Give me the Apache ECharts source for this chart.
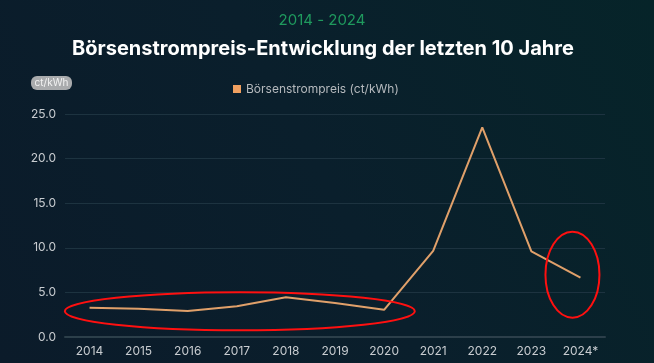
<!DOCTYPE html>
<html><head><meta charset="utf-8">
<script src="https://cdn.jsdelivr.net/npm/echarts@6/dist/echarts.min.js"></script>
<style>html,body{margin:0;padding:0;background:#0a1e2b;}#c{width:654px;height:363px;}</style>
</head><body><div id="c"></div>
<script>
const categories = ['2014','2015','2016','2017','2018','2019','2020','2021','2022','2023','2024*'];
const prices = [3.28, 3.17, 2.92, 3.45, 4.46, 3.8, 3.05, 9.65, 23.5, 9.6, 6.65];
const yTicks = [0, 5, 10, 15, 20, 25];
const seriesName = 'Börsenstrompreis (ct/kWh)';
const subtitle = '2014 - 2024';
const mainTitle = 'Börsenstrompreis-Entwicklung der letzten 10 Jahre';
const unitLabel = 'ct/kWh';

const chart = echarts.init(document.getElementById('c'));
const font = 'Inter, "Noto Sans", sans-serif';
chart.setOption({
  backgroundColor: new echarts.graphic.LinearGradient(0, 1, 1, 0, [
    {offset: 0, color: '#0b1b2a'}, {offset: 0.5, color: '#0a1f2c'}, {offset: 1, color: '#062429'}
  ]),
  animation: false,
  title: [
    {text: subtitle, left: 317, textAlign: 'center', top: 8, textStyle: {color: '#1f9a5e', fontSize: 15, fontWeight: 'normal', fontFamily: font}},
    {text: mainTitle, left: 318, textAlign: 'center', top: 34, textStyle: {color: '#ffffff', fontSize: 20, fontWeight: 'bold', fontFamily: font}}
  ],
  legend: {
    top: 78, left: 228, icon: 'rect', itemWidth: 8, itemHeight: 8, itemGap: 6,
    textStyle: {color: '#b5b9bd', fontSize: 12, fontFamily: font},
    data: [{name: seriesName, itemStyle: {color: '#f0a060'}}]
  },
  grid: {left: 65, right: 49, top: 114, bottom: 26},
  xAxis: {
    type: 'category', data: categories, boundaryGap: true,
    axisLine: {show: true, lineStyle: {color: '#2c3f4a', width: 2}},
    axisTick: {show: false},
    axisLabel: {color: '#c8ccd0', fontSize: 12, fontFamily: font, margin: 8}
  },
  yAxis: {
    type: 'value', min: 0, max: 25, interval: 5,
    axisLabel: {color: '#c8ccd0', fontSize: 12, fontFamily: font, margin: 9, formatter: v => yTicks.includes(v) ? v.toFixed(1) : ''},
    splitLine: {lineStyle: {color: '#1d3340', width: 1}},
    axisLine: {show: false}, axisTick: {show: false}
  },
  series: [{
    name: seriesName, type: 'line', data: prices, symbol: 'none',
    lineStyle: {color: '#e0a06a', width: 2},
    itemStyle: {color: '#f0a060'}
  }]
});

function drawAnnotations() {
  const p = i => chart.convertToPixel({seriesIndex: 0}, [i, prices[i]]);
  const a = p(0), b = p(6), e = p(10);
  const y0 = chart.convertToPixel({yAxisIndex: 0}, 3.0);
  const cx1 = (a[0] + b[0]) / 2 + 3;
  chart.setOption({
    graphic: [
      {type: 'group', left: 31, top: 76, children: [
        {type: 'rect', shape: {x: 0, y: 0, width: 41, height: 14, r: 6}, style: {fill: '#a9abad'}},
        {type: 'text', x: 20.5, y: 7, style: {text: unitLabel, fill: '#f2f2f2', fontSize: 10, fontFamily: font, align: 'center', verticalAlign: 'middle'}}
      ]},
      {type: 'ellipse', shape: {cx: cx1, cy: y0 + 1, rx: 175, ry: 19}, style: {fill: 'none', stroke: '#ff1010', lineWidth: 2}, z: 100},
      {type: 'ellipse', shape: {cx: e[0] - 8, cy: e[1] - 3, rx: 27, ry: 43}, style: {fill: 'none', stroke: '#ff1010', lineWidth: 2}, z: 100}
    ]
  });
}
drawAnnotations();
</script></body></html>
